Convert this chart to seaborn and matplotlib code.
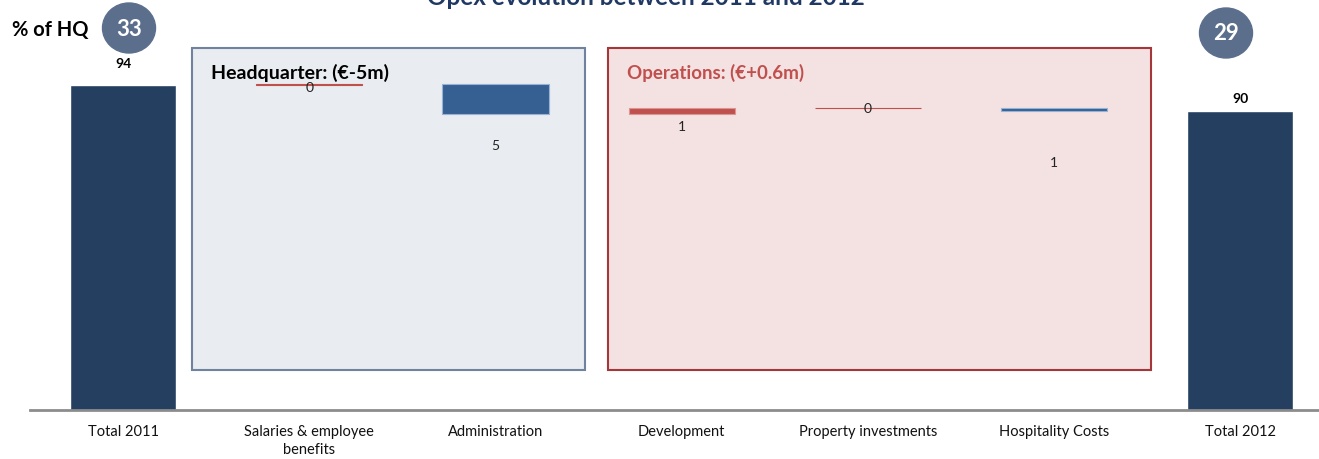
import numpy as np
import pandas as pd
import matplotlib.pyplot as plt
from matplotlib.patches import Rectangle, Ellipse
import seaborn as sns

# values (EUR m)
categories = ["Total 2011", "Salaries & employee\nbenefits", "Administration",
              "Development", "Property investments", "Hospitality Costs", "Total 2012"]
total_2011 = 94.2
changes = [0.1, -5.0, 1.1, 0.0, -0.5]
total_2012 = 89.9
hq_share = [33, 29]
hq_change = "€-5m"
ops_change = "€+0.6m"

sns.set_theme(style="white")
plt.rcParams['font.family'] = ['Lato', 'DejaVu Sans']

W, H = 1319, 460
fig = plt.figure(figsize=(W / 100, H / 100), dpi=100)
ax = fig.add_axes([30 / W, 49 / H, 1 - 30 / W, 411 / H])
ax.set_facecolor('none')

navy = "#243F60"
blue = "#366092"
red = "#C0504D"

# totals
totals = pd.DataFrame({"cat": [categories[0], categories[-1]],
                       "val": [total_2011, total_2012]})
sns.barplot(data=totals, x="cat", y="val", order=categories, color=navy,
            width=0.57, saturation=1, ax=ax, zorder=2)

# floating bars
starts = total_2011 + np.concatenate([[0], np.cumsum(changes)[:-1]])
xs = np.arange(1, len(changes) + 1)
cols = [red if d >= 0 else blue for d in changes]
edges = ["#D99694" if d >= 0 else "#95B3D7" for d in changes]
for x, d, s, c, e in zip(xs, changes, starts, cols, edges):
    thin = abs(d) < 0.3
    ax.bar(x, d, bottom=s, width=0.57, color=c,
           edgecolor=c if thin else e, linewidth=0.8, zorder=3)

# delta labels (Excel-ish placement below the bar)
label_dy = [2, 31, 12, 0, 51]
for x, d, s, dy in zip(xs, changes, starts, label_dy):
    bottom = min(s, s + d)
    ax.annotate(str(int(abs(d) + 0.5)), (x, bottom), xytext=(0, -dy),
                textcoords='offset pixels', ha='center', va='center',
                fontsize=10, color='#222222', zorder=4)

# total labels
for x, v, dy in [(0, total_2011, 22), (6, total_2012, 13)]:
    ax.annotate(f"{v:.0f}", (x, v), xytext=(0, dy), textcoords='offset pixels',
                ha='center', va='center', fontsize=10, fontweight='bold',
                color='black')

ax.set_xlim(-0.5, 1289 / 186.2 - 0.5)
ax.set_ylim(40, 40 + 411 / 6)
ax.set_xlabel("")
ax.set_ylabel("")
ax.set_yticks([])
ax.tick_params(axis='x', length=0, pad=10, labelsize=10.5, labelcolor='#111111')
for lab in ax.get_xticklabels():
    lab.set_linespacing(1.4)
for sp in ['left', 'top', 'right']:
    ax.spines[sp].set_visible(False)
ax.spines['bottom'].set_color('#8C8C8C')
ax.spines['bottom'].set_linewidth(2)


def fx(px):
    return px / W


def fy(py):
    return 1 - py / H


# group boxes
ax.add_patch(Rectangle((fx(192), fy(371)), fx(585) - fx(192), fy(49) - fy(371),
                       transform=fig.transFigure, facecolor="#E9ECF0",
                       edgecolor="#6F839E", linewidth=1.5, zorder=0.5))
ax.add_patch(Rectangle((fx(608), fy(371)), fx(1151) - fx(608), fy(49) - fy(371),
                       transform=fig.transFigure, facecolor="#F4E1E2",
                       edgecolor="#A5373A", linewidth=1.5, zorder=0.5))
fig.text(fx(211), fy(73), f"Headquarter: ({hq_change})", ha='left', va='center',
         fontsize=14, fontweight='bold', color='black')
fig.text(fx(627), fy(73), f"Operations: ({ops_change})", ha='left', va='center',
         fontsize=13.5, fontweight='bold', color=red)

# title (cut off at the top, as in the slide)
fig.text(fx(646), fy(5), "Opex evolution between 2011 and 2012", ha='center',
         va='baseline', fontsize=17.5, fontweight='bold', color='#1F3864')

# % of HQ bubbles
fig.text(fx(12), fy(30), "% of HQ", ha='left', va='center', fontsize=14.5,
         fontweight='bold', color='black')
for (cx, cy), share in zip([(129, 29), (1226, 34)], hq_share):
    fig.add_artist(Ellipse((fx(cx), fy(cy)), 53 / W, 50 / H,
                           transform=fig.transFigure, color='#5B6F8D'))
    fig.text(fx(cx), fy(cy), str(share), ha='center', va='center', fontsize=16,
             fontweight='bold', color='white')

fig.savefig("out.png", dpi=100)
